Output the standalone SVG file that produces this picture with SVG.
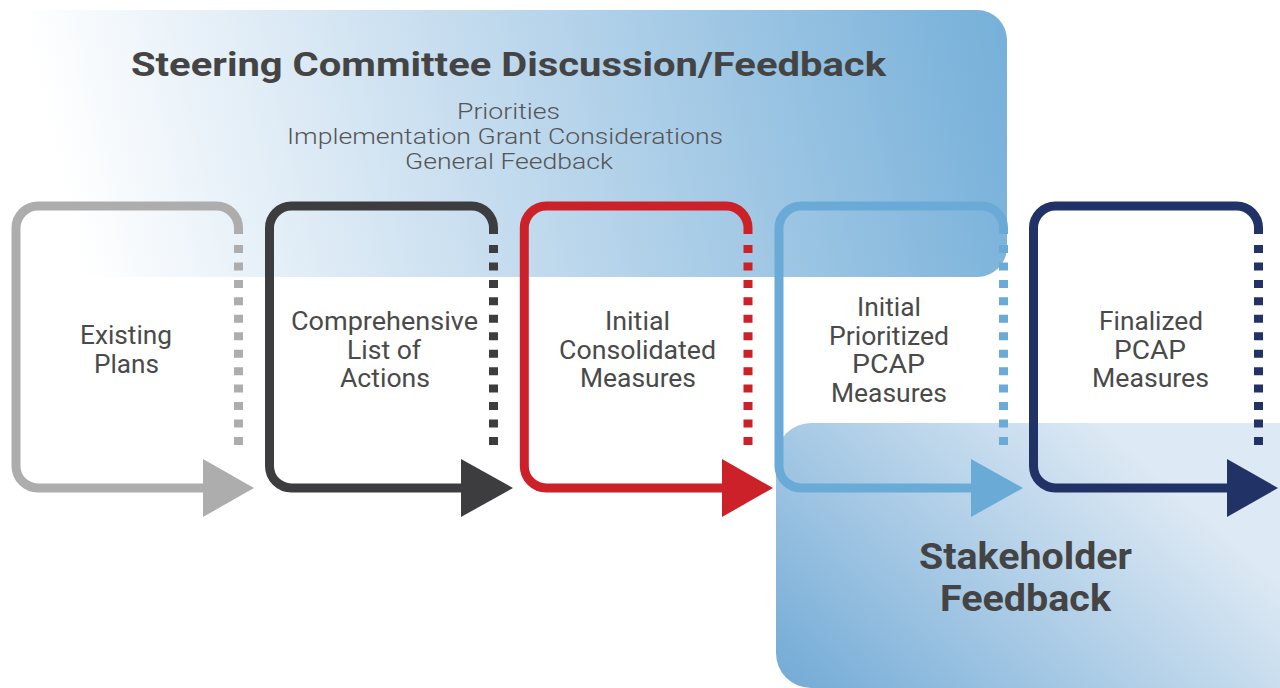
<svg xmlns="http://www.w3.org/2000/svg" width="1280" height="688" viewBox="0 0 1280 688">
  <defs>
    <linearGradient id="steerGrad" gradientUnits="userSpaceOnUse" x1="80" y1="260" x2="1010" y2="40">
      <stop offset="0" stop-color="#ffffff"/>
      <stop offset="0.45" stop-color="#c3dbee"/>
      <stop offset="1" stop-color="#76b0d9"/>
    </linearGradient>
    <linearGradient id="stakeGrad" gradientUnits="userSpaceOnUse" x1="776" y1="688" x2="1050" y2="379">
      <stop offset="0" stop-color="#72aad6"/>
      <stop offset="1" stop-color="#dde9f4"/>
    </linearGradient>
  </defs>
  <style>
    .frame { fill: none; stroke-width: 9; stroke-linejoin: round; }
    .dots { fill: none; stroke-width: 9; stroke-dasharray: 8 9.45; }
    .label { font-family: Roboto, "Liberation Sans", sans-serif; font-size: 26px; fill: #4a4a4a; text-anchor: middle; }
    .title { font-family: Roboto, "Liberation Sans", sans-serif; font-weight: 700; fill: #444444; text-anchor: middle; }
    .sub { font-family: Roboto, "Liberation Sans", sans-serif; font-weight: 300; font-size: 22px; fill: #555555; text-anchor: middle; }
    .gray { stroke: #adadad; fill: #adadad; }
    .dark { stroke: #3d3d3f; fill: #3d3d3f; }
    .red { stroke: #cc2128; fill: #cc2128; }
    .sky { stroke: #69abd6; fill: #69abd6; }
    .navy { stroke: #213366; fill: #213366; }
  </style>

  <rect width="1280" height="688" fill="#ffffff"/>

  <!-- feedback panels -->
  <g id="steering-committee">
    <path d="M -40 10 H 977 A 30 30 0 0 1 1007 40 V 247 A 30 30 0 0 1 977 277 H -40 Z" fill="url(#steerGrad)"/>
    <text class="title" x="508.5" y="76" font-size="34" textLength="755" lengthAdjust="spacingAndGlyphs">Steering Committee Discussion/Feedback</text>
    <text class="sub" x="508.5" y="119" textLength="103" lengthAdjust="spacingAndGlyphs">Priorities</text>
    <text class="sub" x="505" y="144" textLength="436" lengthAdjust="spacingAndGlyphs">Implementation Grant Considerations</text>
    <text class="sub" x="509" y="168.5" textLength="208" lengthAdjust="spacingAndGlyphs">General Feedback</text>
  </g>

  <g id="stakeholder-feedback">
    <path d="M 1290 423 H 811 A 35 35 0 0 0 776 458 V 653 A 35 35 0 0 0 811 688 H 1290 Z" fill="url(#stakeGrad)"/>
    <text class="title" x="1025.5" y="568.5" font-size="37" textLength="213" lengthAdjust="spacingAndGlyphs">Stakeholder</text>
    <text class="title" x="1025.5" y="611" font-size="37" textLength="171" lengthAdjust="spacingAndGlyphs">Feedback</text>
  </g>

  <!-- process steps: solid frame with dotted right side, ending in an arrow -->
  <g id="connectors">
    <g class="gray">
      <path class="frame" d="M 238.5 234 V 228 A 22 22 0 0 0 216.5 206 H 38 A 22 22 0 0 0 16 228 V 466 A 22 22 0 0 0 38 488 H 205"/>
      <line class="dots" x1="238.5" y1="245" x2="238.5" y2="445"/>
      <polygon points="203,459 203,517 254,488" stroke="none"/>
    </g>
    <g class="dark">
      <path class="frame" d="M 493.5 234 V 228 A 22 22 0 0 0 471.5 206 H 291.5 A 22 22 0 0 0 269.5 228 V 466 A 22 22 0 0 0 291.5 488 H 463"/>
      <line class="dots" x1="493.5" y1="245" x2="493.5" y2="445"/>
      <polygon points="461,459 461,517 513,488" stroke="none"/>
    </g>
    <g class="red">
      <path class="frame" d="M 748 234 V 228 A 22 22 0 0 0 726 206 H 546.3 A 22 22 0 0 0 524.3 228 V 466 A 22 22 0 0 0 546.3 488 H 724"/>
      <line class="dots" x1="748" y1="245" x2="748" y2="445"/>
      <polygon points="722,459 722,517 773,488" stroke="none"/>
    </g>
    <g class="sky">
      <path class="frame" d="M 1003.5 234 V 228 A 22 22 0 0 0 981.5 206 H 801 A 22 22 0 0 0 779 228 V 466 A 22 22 0 0 0 801 488 H 973"/>
      <line class="dots" x1="1003.5" y1="245" x2="1003.5" y2="445"/>
      <polygon points="971,459 971,517 1023,488" stroke="none"/>
    </g>
    <g class="navy">
      <path class="frame" d="M 1258.5 234 V 228 A 22 22 0 0 0 1236.5 206 H 1055.5 A 22 22 0 0 0 1033.5 228 V 466 A 22 22 0 0 0 1055.5 488 H 1229"/>
      <line class="dots" x1="1258.5" y1="245" x2="1258.5" y2="445"/>
      <polygon points="1227,459 1227,517 1278,488" stroke="none"/>
    </g>
  </g>

  <g id="existing-plans">
    <text class="label" x="126" y="344" textLength="92" lengthAdjust="spacingAndGlyphs">Existing</text>
    <text class="label" x="126.5" y="372.5" textLength="65" lengthAdjust="spacingAndGlyphs">Plans</text>
  </g>
  <g id="comprehensive-list">
    <text class="label" x="384.5" y="330" textLength="187" lengthAdjust="spacingAndGlyphs">Comprehensive</text>
    <text class="label" x="384" y="358.5" textLength="74" lengthAdjust="spacingAndGlyphs">List of</text>
    <text class="label" x="385" y="387" textLength="90" lengthAdjust="spacingAndGlyphs">Actions</text>
  </g>
  <g id="initial-consolidated">
    <text class="label" x="637.5" y="330" textLength="65" lengthAdjust="spacingAndGlyphs">Initial</text>
    <text class="label" x="637.5" y="358.5" textLength="157" lengthAdjust="spacingAndGlyphs">Consolidated</text>
    <text class="label" x="638" y="387" textLength="116" lengthAdjust="spacingAndGlyphs">Measures</text>
  </g>
  <g id="initial-prioritized">
    <text class="label" x="889" y="316" textLength="64" lengthAdjust="spacingAndGlyphs">Initial</text>
    <text class="label" x="889" y="344.5" textLength="120" lengthAdjust="spacingAndGlyphs">Prioritized</text>
    <text class="label" x="888.5" y="373" textLength="73" lengthAdjust="spacingAndGlyphs">PCAP</text>
    <text class="label" x="889" y="401.5" textLength="116" lengthAdjust="spacingAndGlyphs">Measures</text>
  </g>
  <g id="finalized-pcap">
    <text class="label" x="1151" y="330" textLength="104" lengthAdjust="spacingAndGlyphs">Finalized</text>
    <text class="label" x="1150" y="358.5" textLength="72" lengthAdjust="spacingAndGlyphs">PCAP</text>
    <text class="label" x="1150.5" y="387" textLength="117" lengthAdjust="spacingAndGlyphs">Measures</text>
  </g>
</svg>
